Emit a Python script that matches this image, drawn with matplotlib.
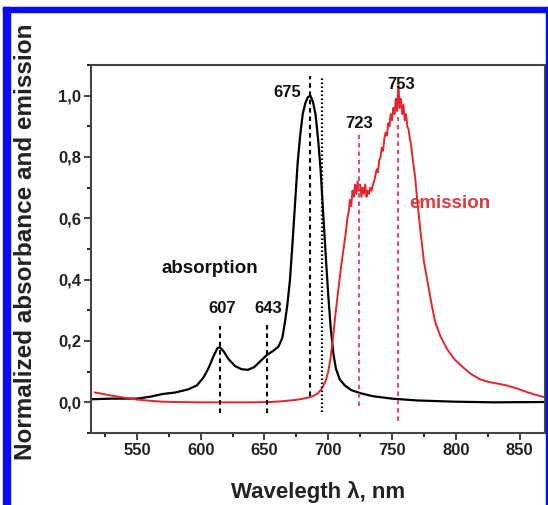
import numpy as np
import matplotlib
matplotlib.use("Agg")
import matplotlib.pyplot as plt
from matplotlib.patches import Rectangle
from matplotlib.ticker import MultipleLocator, FuncFormatter

plt.rcParams['font.family'] = ['Liberation Sans', 'DejaVu Sans']
plt.rcParams['font.weight'] = 'bold'

# absorption spectrum (black)
abs_wl = [514, 530, 550, 560, 570, 580, 590, 597, 602, 606, 610, 613, 615, 618, 622, 627,
          632, 637, 642, 647, 652, 657, 661, 664, 666, 668, 670, 672, 674, 676, 678, 680,
          682, 684, 686, 688, 690, 692, 694, 696, 698, 700, 702, 704, 706, 709, 713, 718,
          725, 735, 750, 770, 800, 830, 870]
abs_val = [0.010, 0.012, 0.012, 0.018, 0.027, 0.032, 0.042, 0.055, 0.080, 0.110, 0.150, 0.176,
           0.180, 0.166, 0.140, 0.118, 0.108, 0.106, 0.115, 0.135, 0.155, 0.168, 0.182, 0.210,
           0.260, 0.320, 0.400, 0.520, 0.650, 0.780, 0.870, 0.940, 0.975, 0.995, 1.000, 0.980,
           0.940, 0.860, 0.760, 0.620, 0.480, 0.350, 0.240, 0.160, 0.110, 0.075, 0.055, 0.040,
           0.030, 0.020, 0.012, 0.006, 0.002, 0.000, 0.001]

# emission spectrum (red)
em_wl = [517, 520, 530, 540, 550, 560, 570, 580, 600, 620, 640, 655, 665, 675, 683, 688,
         692, 695, 698, 700, 702, 704, 706, 708, 710, 712, 714, 715, 716, 717, 718, 719,
         720, 721, 722, 723, 724, 725, 726, 727, 728, 729, 730, 731, 732, 733, 734, 735,
         736, 737, 738, 739, 740, 741, 742, 743, 744, 745, 746, 747, 748, 749, 750, 751,
         752, 753, 754, 755, 756, 757, 758, 759, 760, 761, 762, 763, 764, 765, 766, 768,
         770, 772, 775, 778, 781, 784, 788, 793, 799, 806, 812, 819, 826, 833, 840, 848,
         856, 863, 870]
em_val = [0.032, 0.030, 0.022, 0.015, 0.009, 0.005, 0.002, 0.001, 0.000, 0.000, 0.000, 0.001,
          0.004, 0.008, 0.014, 0.020, 0.030, 0.045, 0.070, 0.100, 0.150, 0.220, 0.300, 0.370,
          0.440, 0.500, 0.560, 0.600, 0.620, 0.660, 0.640, 0.690, 0.670, 0.710, 0.680, 0.720,
          0.690, 0.710, 0.670, 0.700, 0.680, 0.710, 0.670, 0.690, 0.680, 0.700, 0.690, 0.710,
          0.720, 0.740, 0.760, 0.750, 0.790, 0.800, 0.830, 0.820, 0.860, 0.880, 0.870, 0.910,
          0.900, 0.940, 0.920, 0.960, 0.940, 0.990, 0.950, 1.040, 0.960, 0.990, 0.940, 0.970,
          0.920, 0.940, 0.900, 0.890, 0.860, 0.840, 0.800, 0.740, 0.650, 0.570, 0.460, 0.390,
          0.320, 0.260, 0.215, 0.175, 0.140, 0.113, 0.092, 0.075, 0.066, 0.061, 0.055, 0.045,
          0.033, 0.024, 0.016]

# vertical marker lines: position, bottom, top
abs_marks = [615, 652, 686]
abs_marks_lo = [-0.036, -0.036, 0.02]
abs_marks_hi = [0.25, 0.257, 1.065]
dot_mark = 695
dot_lo, dot_hi = -0.03, 1.065
em_marks = [724, 755]
em_marks_lo = [-0.013, -0.06]
em_marks_hi = [0.88, 0.93]

# peak labels
peak_text = ['607', '643', '675', '723', '753']
peak_x = [617, 653, 668, 724, 757]
peak_y = [0.305, 0.305, 1.01, 0.91, 1.035]

red = '#e8232b'
red_dash = '#e2506e'

fig = plt.figure(figsize=(5.48, 5.05), dpi=100)
ax = fig.add_axes([0.1661, 0.1426, 0.8285, 0.7287])

ax.plot(abs_wl, abs_val, color='black', lw=1.6)
ax.plot(em_wl, em_val, color=red, lw=1.4)

for x, lo, hi in zip(abs_marks, abs_marks_lo, abs_marks_hi):
    ax.plot([x, x], [lo, hi], color='black', lw=1.5, dashes=(2.2, 1.8))
ax.plot([dot_mark, dot_mark], [dot_lo, dot_hi], color='black', lw=1.6, dashes=(0.7, 1.1))
for x, lo, hi in zip(em_marks, em_marks_lo, em_marks_hi):
    ax.plot([x, x], [lo, hi], color=red_dash, lw=1.5, dashes=(2.2, 1.8))

for t, x, y in zip(peak_text, peak_x, peak_y):
    ax.text(x, y, t, ha='center', va='center', fontsize=12, fontweight='bold', color='#111')

ax.text(607, 0.436, 'absorption', ha='center', va='center', fontsize=13.5,
        fontweight='bold', color='#111')
ax.text(795, 0.648, 'emission', ha='center', va='center', fontsize=13.5,
        fontweight='bold', color='#e03a40')

ax.set_xlim(514, 870)
ax.set_ylim(-0.1, 1.1)
ax.xaxis.set_major_locator(MultipleLocator(50))
ax.xaxis.set_minor_locator(MultipleLocator(25))
ax.yaxis.set_major_locator(MultipleLocator(0.2))
ax.yaxis.set_minor_locator(MultipleLocator(0.1))
ax.yaxis.set_major_formatter(FuncFormatter(lambda v, p: f"{v:.1f}".replace('.', ',').replace('-0,0', '0,0')))
ax.set_yticks(np.arange(0, 1.01, 0.2))
ax.tick_params(which='major', direction='out', length=5, width=1.2, pad=2,
               labelsize=12, colors='#222')
ax.tick_params(which='minor', direction='out', length=3, width=1.2)
for lab in ax.get_xticklabels() + ax.get_yticklabels():
    lab.set_fontweight('bold')
for s in ax.spines.values():
    s.set_color('#444')
    s.set_linewidth(1.5)

ax.set_xlabel('Wavelegth \u03bb, nm', fontsize=16, fontweight='bold', color='#222', labelpad=17)
fig.text(0.046, 0.521, 'Normalized absorbance and emission', rotation=90, ha='center',
         va='center', fontsize=17.5, fontweight='bold', color='#222')

# blue frame around the figure
blue = '#0a0af0'
fig.patches.append(Rectangle((3 / 548, 0), 7 / 548, 498 / 505, transform=fig.transFigure,
                             color=blue, zorder=10))
fig.patches.append(Rectangle((3 / 548, 493 / 505), 545 / 548, 5 / 505, transform=fig.transFigure,
                             color=blue, zorder=10))
fig.patches.append(Rectangle((546 / 548, 0), 2 / 548, 498 / 505, transform=fig.transFigure,
                             color=blue, zorder=10))

fig.savefig('out.png', dpi=100)
